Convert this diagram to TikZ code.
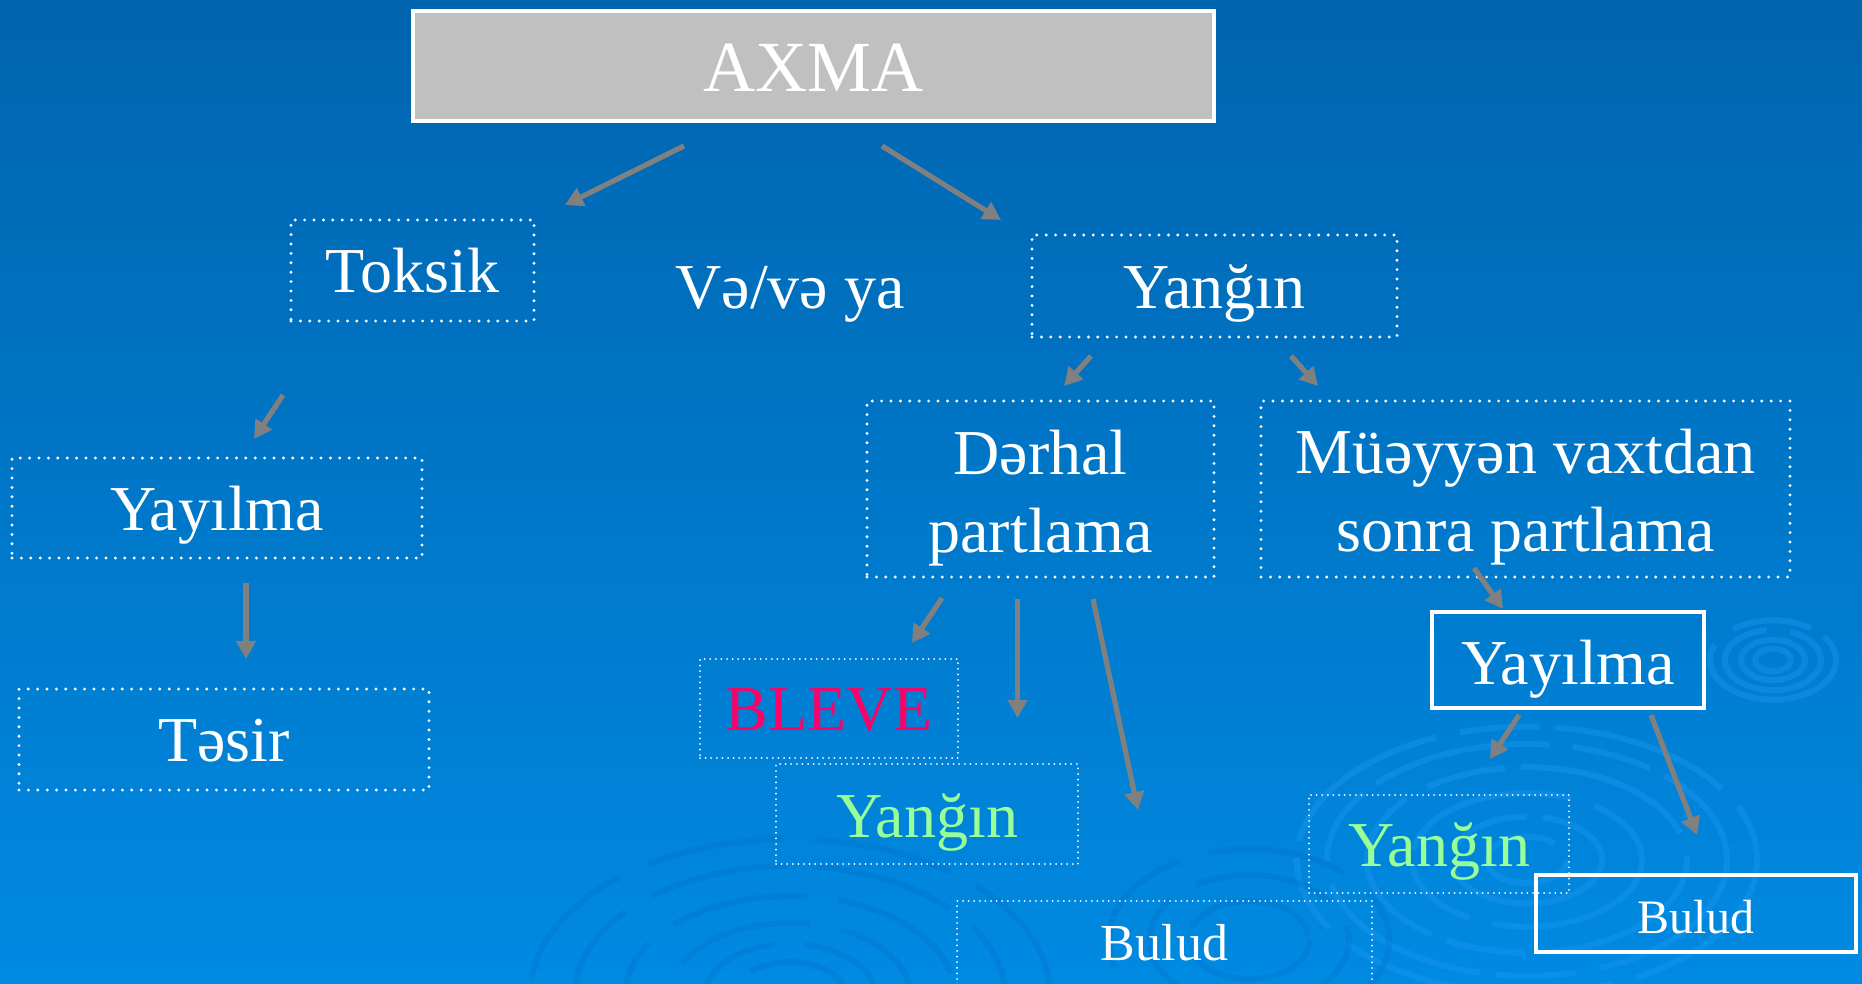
\documentclass[tikz,border=0pt]{standalone}
\usepackage{fontspec}
\setmainfont{Liberation Serif}
\usetikzlibrary{arrows.meta}
\definecolor{bgtop}{RGB}{0,100,174}
\definecolor{bgbot}{RGB}{0,138,226}
\definecolor{ripple}{RGB}{25,150,240}
\definecolor{rippledark}{RGB}{0,110,200}
\definecolor{arrowgray}{RGB}{128,128,128}
\definecolor{boxgray}{RGB}{192,192,192}
\definecolor{blevecol}{RGB}{255,0,102}
\definecolor{lgreen}{RGB}{153,255,153}
\tikzset{
  big/.style={font=\fontsize{32}{39}\selectfont},
  dotbox/.style={draw=white, line width=1.6pt, dash pattern=on 0pt off 4.7pt, line cap=round,
    inner sep=0pt, text=white, big, text height=22pt, text depth=0pt},
  finebox/.style={dotbox, line width=1pt, dash pattern=on 0pt off 2.8pt},
  solidbox/.style={draw=white, line width=2.3pt, inner sep=0pt, text=white, big,
    text height=22pt, text depth=0pt},
  plaintext/.style={text=white, inner sep=0pt, big, anchor=base},
  arr/.style={draw=arrowgray, line width=2.6pt, -{Triangle[length=9pt,width=9.5pt]}},
  rip/.style={draw=ripple, line width=3pt, opacity=0.45, dash pattern=on 90pt off 12pt on 40pt off 8pt},
  ripd/.style={draw=rippledark, line width=3pt, opacity=0.3, dash pattern=on 70pt off 15pt},
}
\begin{document}
\begin{tikzpicture}[x=0.5pt,y=-0.5pt]
\useasboundingbox (0,0) rectangle (1862,984);
\shade[top color=bgtop, bottom color=bgbot] (0,0) rectangle (1862,984);
% ripples
\begin{scope}
\clip (0,0) rectangle (1862,984);
\foreach \r in {40,75,115,160,200,230} \draw[rip] (1527,860) ellipse [x radius=\r, y radius=0.58*\r];
\foreach \r in {18,32,48,63} \draw[rip] (1773,660) ellipse [x radius=\r, y radius=0.63*\r];
\foreach \r in {55,85,120,165,215,260} \draw[ripd] (790,995) ellipse [x radius=\r, y radius=0.6*\r];
\foreach \r in {60,100,140} \draw[ripd] (1249,940) ellipse [x radius=\r, y radius=0.65*\r];
\end{scope}
% nodes
\node[draw=white, line width=2pt, fill=boxgray, inner sep=0pt, text=white,
  font=\fontsize{36}{43}\selectfont, text height=26pt, text depth=0pt,
  minimum width=400.5pt, minimum height=55pt] (axma) at (813.5,66) {AXMA};
\node[dotbox, minimum width=121.5pt, minimum height=50.5pt] (toksik) at (412.5,270.5) {Toksik};
\node[plaintext] (veya) at (790,308) {Və/və ya};
\node[dotbox, minimum width=182.5pt, minimum height=51pt] (yangin) at (1214.5,286) {Yanğın};
\node[dotbox, minimum width=205pt, minimum height=50pt] (yayL) at (217,508) {Yayılma};
\node[dotbox, minimum width=205pt, minimum height=50.5pt, text height=21.5pt] (tesir) at (224,739.5) {Təsir};
\node[dotbox, align=center, minimum width=173.5pt, minimum height=88pt, text height=63pt] (derhal) at (1040.5,489) {Dərhal\\partlama};
\node[dotbox, align=center, minimum width=264.5pt, minimum height=88pt, text height=62pt] (muey) at (1525.5,489) {Müəyyən vaxtdan\\sonra partlama};
\node[solidbox, minimum width=136pt, minimum height=48pt, text height=24pt] (yayR) at (1568,660) {Yayılma};
\node[finebox, text=blevecol, minimum width=129pt, minimum height=49.5pt, text height=21.5pt] (bleve) at (829,708.5) {BLEVE};
\node[finebox, text=lgreen, minimum width=151pt, minimum height=50pt, text height=23pt] (yangM) at (927,814) {Yanğın};
\node[finebox, font=\fontsize{26}{31}\selectfont, minimum width=207.5pt, minimum height=50pt, text height=9pt] (bulM) at (1164.5,951) {Bulud};
\node[solidbox, font=\fontsize{24}{29}\selectfont, minimum width=160pt, minimum height=38.5pt, text height=19.5pt] (bulR) at (1696,913.5) {Bulud};
\node[finebox, text=lgreen, minimum width=130pt, minimum height=49pt, text height=22pt] (yangR) at (1439,844) {Yanğın};
% arrow end points
\coordinate (a1s) at (684,146);  \coordinate (a1e) at (565,205);
\coordinate (a2s) at (882,146);  \coordinate (a2e) at (1001,220);
\coordinate (a3s) at (1091,356); \coordinate (a3e) at (1064,386);
\coordinate (a4s) at (1291,356); \coordinate (a4e) at (1318,386);
\coordinate (a5s) at (283,395);  \coordinate (a5e) at (254,439);
\coordinate (a6s) at (246,583);  \coordinate (a6e) at (246,659);
\coordinate (a7s) at (942,598);  \coordinate (a7e) at (912,643);
\coordinate (a8s) at (1017.5,599); \coordinate (a8e) at (1017.5,718);
\coordinate (a9s) at (1093,599); \coordinate (a9e) at (1138,810);
\coordinate (a10s) at (1474,568); \coordinate (a10e) at (1503,609);
\coordinate (a11s) at (1519,715); \coordinate (a11e) at (1490,759);
\coordinate (a12s) at (1651,715); \coordinate (a12e) at (1697,835);
\foreach \i in {1,...,12} \draw[arr] (a\i s) -- (a\i e);
\end{tikzpicture}
\end{document}
